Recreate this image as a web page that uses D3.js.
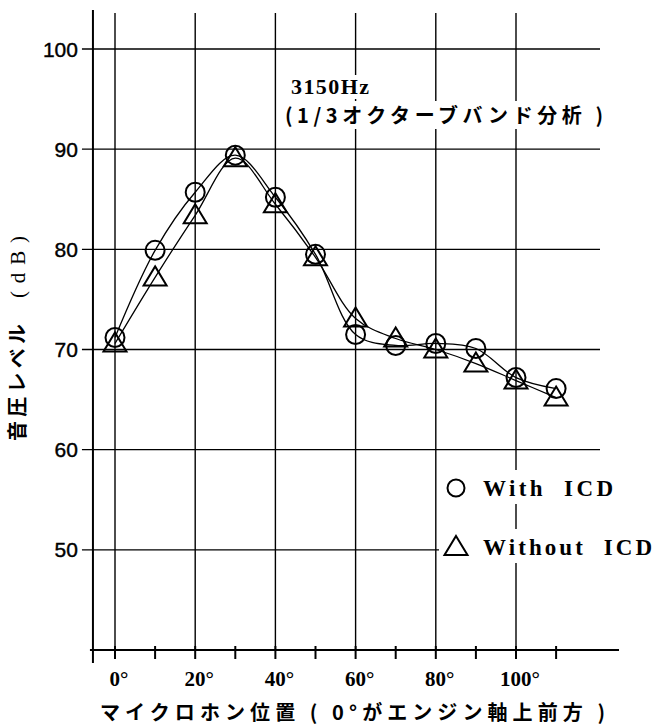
<!DOCTYPE html>
<html>
<head>
<meta charset="utf-8">
<script src="https://cdnjs.cloudflare.com/ajax/libs/d3/7.8.5/d3.min.js"></script>
<style>
  body { margin: 0; background: #fff; }
  text { fill: #000; white-space: pre; }
</style>
</head>
<body>
<div id="chart"></div>
<script>
// microphone angle (deg) and sound pressure level (dB)
const angles     = [0, 10, 20, 30, 40, 50, 60, 70, 80, 90, 100, 110];
const withICD    = [71.2, 79.9, 85.7, 89.4, 85.2, 79.5, 71.5, 70.4, 70.6, 70.1, 67.2, 66.1];
const withoutICD = [70.6, 77.2, 83.4, 89.1, 84.5, 79.2, 73.1, 71.1, 70.0, 68.6, 66.9, 65.2];

const yTicks = [50, 60, 70, 80, 90, 100];
const xGrid  = [0, 20, 40, 60, 80, 100];
const xTicks = [0, 10, 20, 30, 40, 50, 60, 70, 80, 90, 100, 110];

const W = 655, H = 726;
const svg = d3.select("#chart").append("svg")
  .attr("width", W).attr("height", H);

const x = d3.scaleLinear().domain([0, 100]).range([115, 516]);
const y = d3.scaleLinear().domain([40, 100]).range([650, 49]);

const axisX = x(-5.5);      // left axis position
const topY = 10;
const baseY = y(40);

const serif = "Liberation Serif, Times New Roman, serif";
const jp = "Noto Sans CJK JP, sans-serif";

// GRID
svg.append("g").selectAll("line")
  .data(yTicks)
  .join("line")
  .attr("x1", axisX - 11).attr("x2", 600)
  .attr("y1", d => y(d)).attr("y2", d => y(d))
  .attr("stroke", "#000").attr("stroke-width", 1.4);

svg.append("g").selectAll("line")
  .data(xGrid)
  .join("line")
  .attr("x1", d => x(d)).attr("x2", d => x(d))
  .attr("y1", topY + 3).attr("y2", baseY)
  .attr("stroke", "#000").attr("stroke-width", 1.4);

// AXES
svg.append("line")
  .attr("x1", axisX).attr("x2", axisX)
  .attr("y1", topY).attr("y2", baseY + 13)
  .attr("stroke", "#000").attr("stroke-width", 2);

svg.append("line")
  .attr("x1", axisX - 3).attr("x2", 619)
  .attr("y1", baseY).attr("y2", baseY)
  .attr("stroke", "#000").attr("stroke-width", 2);

svg.append("g").selectAll("line")
  .data(xTicks)
  .join("line")
  .attr("x1", d => x(d)).attr("x2", d => x(d))
  .attr("y1", baseY - 4).attr("y2", baseY + 9)
  .attr("stroke", "#000").attr("stroke-width", 2);

// tick labels
svg.append("g").selectAll("text")
  .data(yTicks)
  .join("text")
  .attr("x", axisX - 15)
  .attr("y", d => y(d) + 7.5)
  .attr("text-anchor", "end")
  .style("font-family", "Liberation Sans, Arial, sans-serif")
  .style("font-size", "21px")
  .style("stroke", "#000").style("stroke-width", 0.4)
  .text(d => d);

svg.append("g").selectAll("text")
  .data(xGrid)
  .join("text")
  .attr("x", d => x(d) + 4)
  .attr("y", 686)
  .attr("text-anchor", "middle")
  .style("font-family", serif)
  .style("font-weight", "bold")
  .style("font-size", "21px")
  .text(d => d + "°");

// axis titles
svg.append("text")
  .attr("x", 100).attr("y", 720)
  .attr("textLength", 505).attr("lengthAdjust", "spacing")
  .style("font-family", jp)
  .style("font-size", "20px")
  .style("font-weight", "bold")
  .text("マイクロホン位置 ( 0°がエンジン軸上前方 )");

svg.append("text")
  .attr("transform", "translate(25,441) rotate(-90)")
  .attr("textLength", 117).attr("lengthAdjust", "spacing")
  .style("font-family", jp)
  .style("font-size", "20px")
  .style("font-weight", "bold")
  .text("音圧レベル");

svg.append("text")
  .attr("transform", "translate(25,298) rotate(-90)")
  .attr("textLength", 62).attr("lengthAdjust", "spacing")
  .style("font-family", serif)
  .style("font-size", "21px")
  .text("(dB)");

// annotation with white background
function labelBox(tx, ty, str, len, size, family, weight) {
  const g = svg.append("g");
  const rect = g.append("rect").attr("fill", "#fff");
  const t = g.append("text")
    .attr("x", tx).attr("y", ty)
    .attr("textLength", len).attr("lengthAdjust", "spacing")
    .style("font-family", family)
    .style("font-size", size + "px")
    .style("font-weight", weight || "normal")
    .text(str);
  const b = t.node().getBBox();
  rect.attr("x", b.x - 3).attr("y", b.y + 1)
    .attr("width", b.width + 6).attr("height", b.height - 1);
  return g;
}

labelBox(291, 94, "3150Hz", 78, 22, serif, "bold");
labelBox(285, 123, "(1/3オクターブバンド分析 )", 318, 20, jp, "bold");

// SERIES
const line = d3.line()
  .x((d, i) => x(angles[i]))
  .y(d => y(d))
  .curve(d3.curveCatmullRom.alpha(0.5));

[withICD, withoutICD].forEach(s => {
  svg.append("path")
    .datum(s)
    .attr("d", line)
    .attr("fill", "none")
    .attr("stroke", "#000")
    .attr("stroke-width", 1.3);
});

const triPath = "M0,-11L11.5,8L-11.5,8Z";

svg.append("g").selectAll("path")
  .data(withoutICD)
  .join("path")
  .attr("transform", (d, i) => `translate(${x(angles[i])},${y(d)})`)
  .attr("d", triPath)
  .attr("fill", "none")
  .attr("stroke", "#000")
  .attr("stroke-width", 2);

svg.append("g").selectAll("circle")
  .data(withICD)
  .join("circle")
  .attr("cx", (d, i) => x(angles[i]))
  .attr("cy", d => y(d))
  .attr("r", 9.5)
  .attr("fill", "none")
  .attr("stroke", "#000")
  .attr("stroke-width", 2);

// LEGEND
const legendItems = [
  { label: "With  ICD",    shape: "circle",   cy: 488, len: 130 },
  { label: "Without  ICD", shape: "triangle", cy: 547, len: 169 }
];

legendItems.forEach(it => {
  svg.append("rect")
    .attr("x", 439).attr("y", it.cy - 18)
    .attr("width", 216).attr("height", 34)
    .attr("fill", "#fff");
  if (it.shape === "circle") {
    svg.append("circle")
      .attr("cx", 456).attr("cy", it.cy).attr("r", 8.5)
      .attr("fill", "none").attr("stroke", "#000").attr("stroke-width", 2);
  } else {
    svg.append("path")
      .attr("transform", `translate(456,${it.cy})`)
      .attr("d", triPath)
      .attr("fill", "none").attr("stroke", "#000").attr("stroke-width", 2);
  }
  svg.append("text")
    .attr("x", 483).attr("y", it.cy + 8)
    .attr("textLength", it.len).attr("lengthAdjust", "spacing")
    .style("font-family", serif)
    .style("font-weight", "bold")
    .style("font-size", "23px")
    .text(it.label);
});
</script>
</body>
</html>
